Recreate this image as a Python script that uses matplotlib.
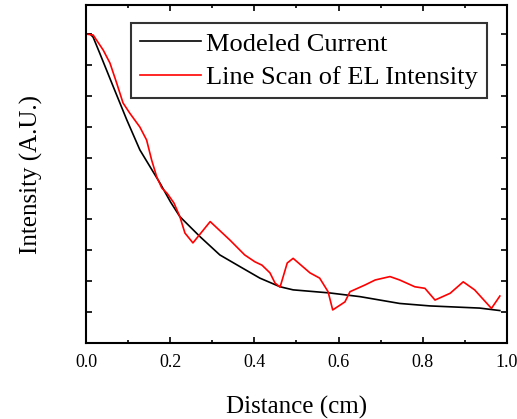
import numpy as np
import matplotlib
matplotlib.use('Agg')
import matplotlib.pyplot as plt

plt.rcParams['font.family'] = 'Liberation Serif'

# modeled current (normalized)
model_x = [0.0, 0.010, 0.017, 0.033, 0.065, 0.097, 0.128, 0.152, 0.176, 0.201,
           0.223, 0.271, 0.318, 0.366, 0.413, 0.461, 0.492, 0.579, 0.651, 0.698,
           0.745, 0.817, 0.935, 0.983]
model_y = [1.0, 1.0, 0.990, 0.937, 0.829, 0.722, 0.625, 0.571, 0.517, 0.456,
           0.409, 0.344, 0.285, 0.247, 0.210, 0.182, 0.172, 0.162, 0.150, 0.139,
           0.128, 0.120, 0.113, 0.105]

# EL intensity line scan (normalized)
scan_x = [0.0, 0.017, 0.041, 0.057, 0.073, 0.088, 0.104, 0.128, 0.144, 0.156,
          0.168, 0.180, 0.193, 0.209, 0.223, 0.235, 0.254, 0.295, 0.342, 0.377,
          0.401, 0.418, 0.437, 0.449, 0.461, 0.478, 0.492, 0.532, 0.555, 0.575,
          0.586, 0.615, 0.627, 0.663, 0.687, 0.722, 0.745, 0.781, 0.805, 0.829,
          0.865, 0.896, 0.923, 0.963, 0.983]
scan_y = [1.0, 0.997, 0.948, 0.906, 0.841, 0.777, 0.744, 0.699, 0.657, 0.592,
          0.538, 0.502, 0.484, 0.453, 0.409, 0.356, 0.324, 0.393, 0.333, 0.285,
          0.263, 0.252, 0.227, 0.194, 0.181, 0.259, 0.274, 0.227, 0.210, 0.166,
          0.107, 0.133, 0.166, 0.188, 0.204, 0.215, 0.204, 0.182, 0.177, 0.139,
          0.161, 0.198, 0.172, 0.112, 0.152]

fig = plt.figure(figsize=(5.17, 4.19), dpi=100)
ax = fig.add_axes([0.1663, 0.1814, 0.8144, 0.8066])

ax.plot(model_x, model_y, color='black', lw=1.2, label='Modeled Current')
ax.plot(scan_x, scan_y, color='red', lw=1.2, label='Line Scan of EL Intensity')

ax.set_xlim(0, 1.0)
ax.set_ylim(0, 1.094)
ax.set_xticks(np.arange(0, 1.01, 0.2))
ax.set_xticks(np.arange(0.1, 1.0, 0.2), minor=True)
ax.set_xticklabels(['0.0', '0.2', '0.4', '0.6', '0.8', '1.0'])
ax.set_yticks(np.arange(0.1, 1.05, 0.1))
ax.set_yticklabels([])
ax.tick_params(which='major', direction='in', length=4, width=1.2,
               top=True, right=True, labelsize=13, pad=8)
ax.tick_params(which='minor', direction='in', length=2, width=1.2,
               top=True, right=True)
for s in ax.spines.values():
    s.set_linewidth(1.5)

ax.set_xlabel('Distance (cm)', fontsize=18, labelpad=18)
ax.set_ylabel('Intensity (A.U.)', fontsize=18, labelpad=23)

leg = ax.legend(loc='upper right', bbox_to_anchor=(0.952, 0.947), fontsize=19,
                frameon=True, fancybox=False, handlelength=2.3,
                borderpad=0.35, labelspacing=0.38, handletextpad=0.2,
                borderaxespad=0)
leg.get_frame().set_edgecolor('black')
leg.get_frame().set_linewidth(1.5)

fig.savefig('out.png', dpi=100)
